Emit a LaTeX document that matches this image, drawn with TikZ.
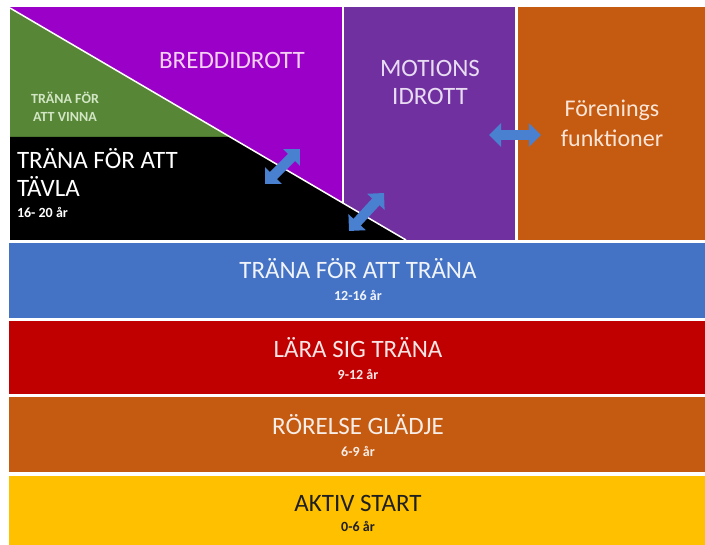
\documentclass[tikz,border=0pt]{standalone}
\usepackage{fontspec}
\setmainfont{Carlito}
\usetikzlibrary{positioning, arrows.meta}

\definecolor{breddpurple}{HTML}{9B00C8}
\definecolor{motionpurple}{HTML}{7030A0}
\definecolor{foreorange}{HTML}{C55A11}
\definecolor{vinngreen}{HTML}{568636}
\definecolor{bandblue}{HTML}{4472C4}
\definecolor{bandred}{HTML}{C00000}
\definecolor{bandorange}{HTML}{C55A11}
\definecolor{bandyellow}{HTML}{FFC000}
\definecolor{arrowblue}{HTML}{4A80D0}
\definecolor{breddtxt}{HTML}{F4D0F4}
\definecolor{vinntxt}{HTML}{D2E6C4}
\definecolor{motiontxt}{HTML}{E8DCF2}
\definecolor{foretxt}{HTML}{FBE5D6}

\begin{document}
\begin{tikzpicture}[x=1pt, y=-1pt,
  every node/.style={inner sep=0pt, outer sep=0pt},
  band/.style={minimum width=696pt, anchor=north west},
  bigtxt/.style={font=\fontsize{25}{28}\selectfont, align=center},
  agetxt/.style={font=\bfseries\fontsize{14}{16}\selectfont},
  dblarrow/.style={arrowblue, line width=10pt,
    {Triangle[length=12pt,width=23pt]}-{Triangle[length=12pt,width=23pt]}}]
  \useasboundingbox (0,0) rectangle (705,545);

  % top part
  \fill[breddpurple] (10,7) rectangle (342,240);
  \fill[motionpurple] (344,7) rectangle (515,240);
  \fill[foreorange] (518,7) rectangle (705,240);
  \fill[vinngreen] (10,8) -- (230,137) -- (10,137) -- cycle;
  \fill[black] (10,137) -- (230,137) -- (405,240) -- (10,240) -- cycle;
  \draw[white, line width=1.5pt] (10,8) -- (406,240);

  \node[bigtxt, text=breddtxt] (bredd) at (232,60) {BREDDIDROTT};
  \node[font=\bfseries\fontsize{14}{18}\selectfont, align=center, text=vinntxt] (vinna) at (65,107) {TRÄNA FÖR\\ATT VINNA};
  \node[bigtxt, align=left, anchor=west, text=white] (tavla) at (17,172) {TRÄNA FÖR ATT\\TÄVLA};
  \node[agetxt, below=11pt of tavla.south west, anchor=north west, text=white] (tavlaage) {16- 20 år};
  \node[bigtxt, text=motiontxt] (motion) at (430,82) {MOTIONS\\IDROTT};
  \node[bigtxt, text=foretxt, font=\fontsize{24}{30}\selectfont] (forening) at (612,123) {Förenings\\funktioner};

  % bands
  \node[band, fill=bandblue, minimum height=75pt] (blueband) at (9,243) {};
  \node[band, fill=bandred, minimum height=73pt] (redband) at (9,321) {};
  \node[band, fill=bandorange, minimum height=75pt] (orangeband) at (9,397) {};
  \node[band, fill=bandyellow, minimum height=69pt] (yellowband) at (9,476) {};

  \node[bigtxt, text=white!92!bandblue] (trana) at (358,269) {TRÄNA FÖR ATT TRÄNA};
  \node[agetxt, below=11pt of trana, text=white!92!bandblue] (tranaage) {12-16 år};
  \node[bigtxt, text=white!90!bandred] (lara) at (358,348) {LÄRA SIG TRÄNA};
  \node[agetxt, below=11pt of lara, text=white!90!bandred] (laraage) {9-12 år};
  \node[bigtxt, text=white!90!bandorange] (gladje) at (358,425) {RÖRELSE GLÄDJE};
  \node[agetxt, below=11pt of gladje, text=white!90!bandorange] (gladjeage) {6-9 år};
  \node[bigtxt, text=black!88] (aktiv) at (358,503) {AKTIV START};
  \node[agetxt, below=10pt of aktiv, text=black!88] (aktivage) {0-6 år};

  % double arrows
  \coordinate (arrA1) at (265,184);
  \coordinate (arrA2) at (300,149);
  \coordinate (arrB1) at (349,231);
  \coordinate (arrB2) at (384,193);
  \coordinate (arrC1) at (489,135);
  \coordinate (arrC2) at (541,135);
  \draw[dblarrow] (arrA1) -- (arrA2);
  \draw[dblarrow] (arrB1) -- (arrB2);
  \draw[dblarrow] (arrC1) -- (arrC2);
\end{tikzpicture}
\end{document}
